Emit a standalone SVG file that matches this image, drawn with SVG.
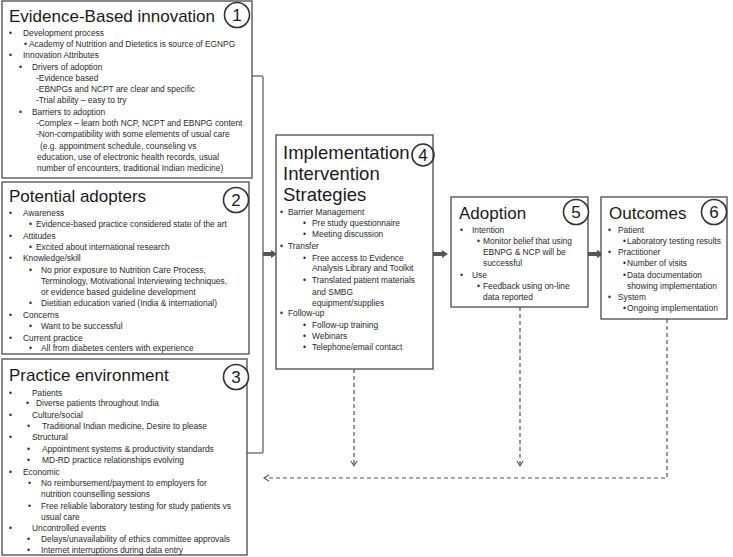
<svg xmlns="http://www.w3.org/2000/svg" width="733" height="557" viewBox="0 0 733 557">
<style>
.box{fill:#fff;stroke:#4a4a4a;stroke-width:1.3}
.t{font-family:"Liberation Sans",Arial,sans-serif;font-size:17px;fill:#1a1a1a}
.t4{font-size:18.5px}
.b{font-family:"Liberation Sans",Arial,sans-serif;font-size:8.4px;fill:#2a2a2a}
.c{fill:#fff;stroke:#333;stroke-width:1.6}
.cn{font-family:"Liberation Sans",Arial,sans-serif;font-size:17px;fill:#1a1a1a;text-anchor:middle}
.thick{stroke:#555;stroke-width:4;fill:none}
.head{fill:#555}
.dash{stroke:#555;stroke-width:1.2;fill:none;stroke-dasharray:4 3}
.chev{stroke:#555;stroke-width:1.1;fill:none}
.br{stroke:#333;stroke-width:1;fill:none}
</style>

<g id="connectors">
  <path class="br" d="M252,76 H262 Q263,76 263,77 V452 Q263,453 262,453 H247"/>
  <line class="thick" x1="263" y1="254" x2="272" y2="254"/>
  <polygon class="head" points="271,250 277,254 271,258"/>
  <line class="thick" x1="433" y1="254" x2="443" y2="254"/>
  <polygon class="head" points="442,250 448,254 442,258"/>
  <line class="thick" x1="588" y1="254" x2="598" y2="254"/>
  <polygon class="head" points="597,250 604,254 597,258"/>
  <line class="dash" x1="354" y1="369" x2="354" y2="465"/>
  <polyline class="chev" points="351,461 354,466 357,461"/>
  <line class="dash" x1="520" y1="307" x2="520" y2="465"/>
  <polyline class="chev" points="517,461 520,466 523,461"/>
  <path class="dash" d="M667,319 V478 H265"/>
  <polyline class="chev" points="269,475 264,478 269,481"/>
</g>

<g id="node1">
  <rect class="box" x="2" y="1" width="250" height="177"/>
  <text class="t" x="9" y="22">Evidence-Based innovation</text>
  <circle class="c" cx="237" cy="15" r="12.5"/>
  <text class="cn" x="237" y="21">1</text>
  <g class="b">
    <text x="9" y="36">•</text><text x="23" y="36">Development process</text>
    <text x="24" y="47">•</text><text x="29" y="47">Academy of Nutrition and Dietetics is source of EGNPG</text>
    <text x="9" y="58">•</text><text x="23" y="58">Innovation Attributes</text>
    <text x="19" y="70">•</text><text x="32" y="70">Drivers of adoption</text>
    <text x="36" y="81">-Evidence based</text>
    <text x="36" y="92">-EBNPGs and NCPT are clear and specific</text>
    <text x="36" y="103">-Trial ability – easy to try</text>
    <text x="19" y="115">•</text><text x="32" y="115">Barriers to adoption</text>
    <text x="36" y="126">-Complex – learn both NCP, NCPT and EBNPG content</text>
    <text x="36" y="137">-Non-compatibility with some elements of usual care</text>
    <text x="40" y="149">(e.g. appointment schedule, counseling  vs</text>
    <text x="37" y="160">education, use of electronic health records, usual</text>
    <text x="37" y="171">number of encounters, traditional Indian medicine)</text>
  </g>
</g>

<g id="node2">
  <rect class="box" x="2" y="182" width="247" height="172"/>
  <text class="t" x="9" y="202">Potential adopters</text>
  <circle class="c" cx="236" cy="200" r="12.5"/>
  <text class="cn" x="236" y="206">2</text>
  <g class="b">
    <text x="9" y="216">•</text><text x="23" y="216">Awareness</text>
    <text x="29" y="227">•</text><text x="36" y="227">Evidence-based practice considered state of the art</text>
    <text x="9" y="238.5">•</text><text x="23" y="238.5">Attitudes</text>
    <text x="29" y="249.5">•</text><text x="36" y="249.5">Excited about international research</text>
    <text x="9" y="261">•</text><text x="23" y="261">Knowledge/skill</text>
    <text x="29" y="273">•</text><text x="41" y="273">No prior exposure to Nutrition Care Process,</text>
    <text x="41" y="284">Terminology, Motivational Interviewing techniques,</text>
    <text x="41" y="295">or evidence based guideline development</text>
    <text x="29" y="306">•</text><text x="41" y="306">Dietitian education varied (India &amp; international)</text>
    <text x="9" y="318">•</text><text x="23" y="318">Concerns</text>
    <text x="29" y="329">•</text><text x="41" y="329">Want to be successful</text>
    <text x="9" y="340.5">•</text><text x="23" y="340.5">Current practice</text>
    <text x="29" y="351">•</text><text x="41" y="351">All from diabetes centers with experience</text>
  </g>
</g>

<g id="node3">
  <rect class="box" x="2" y="359" width="245" height="196"/>
  <text class="t" x="9" y="381">Practice environment</text>
  <circle class="c" cx="236" cy="377" r="12.5"/>
  <text class="cn" x="236" y="383">3</text>
  <g class="b">
    <text x="9" y="396">•</text><text x="32" y="396">Patients</text>
    <text x="26" y="406">•</text><text x="36" y="406">Diverse patients throughout India</text>
    <text x="9" y="418">•</text><text x="32" y="418">Culture/social</text>
    <text x="27" y="429">•</text><text x="42" y="429">Traditional Indian medicine, Desire to please</text>
    <text x="9" y="440">•</text><text x="32" y="440">Structural</text>
    <text x="27" y="452">•</text><text x="42" y="452">Appointment systems &amp; productivity standards</text>
    <text x="27" y="463">•</text><text x="42" y="463">MD-RD practice relationships evolving</text>
    <text x="9" y="474.5">•</text><text x="23" y="474.5">Economic</text>
    <text x="28" y="486">•</text><text x="41" y="486">No reimbursement/payment to employers for</text>
    <text x="41" y="497">nutrition counselling sessions</text>
    <text x="28" y="508.5">•</text><text x="41" y="508.5">Free reliable laboratory testing for study patients vs</text>
    <text x="41" y="519.5">usual care</text>
    <text x="9" y="531">•</text><text x="32" y="531">Uncontrolled events</text>
    <text x="27" y="542">•</text><text x="41" y="542">Delays/unavailability of ethics committee approvals</text>
    <text x="27" y="553">•</text><text x="41" y="553">Internet interruptions during data entry</text>
  </g>
</g>

<g id="node4">
  <rect class="box" x="276" y="135" width="157" height="234"/>
  <text class="t t4" x="283" y="159">Implementation</text>
  <text class="t t4" x="283" y="180">Intervention</text>
  <text class="t t4" x="283" y="201">Strategies</text>
  <circle class="c" cx="423" cy="155" r="11" style="fill:none"/>
  <text class="cn" x="423" y="161">4</text>
  <g class="b">
    <text x="280" y="214.5">•</text><text x="288" y="214.5">Barrier Management</text>
    <text x="303" y="226">•</text><text x="312" y="226">Pre study questionnaire</text>
    <text x="303" y="237">•</text><text x="312" y="237">Meeting discussion</text>
    <text x="280" y="249">•</text><text x="288" y="249">Transfer</text>
    <text x="303" y="260.5">•</text><text x="312" y="260.5">Free access to Evidence</text>
    <text x="312" y="271">Analysis Library and Toolkit</text>
    <text x="303" y="283">•</text><text x="312" y="283">Translated patient materials</text>
    <text x="312" y="294.5">and SMBG</text>
    <text x="312" y="305.5">equipment/supplies</text>
    <text x="280" y="316">•</text><text x="288" y="316">Follow-up</text>
    <text x="303" y="328">•</text><text x="312" y="328">Follow-up training</text>
    <text x="303" y="339">•</text><text x="312" y="339">Webinars</text>
    <text x="303" y="350">•</text><text x="312" y="350">Telephone/email contact</text>
  </g>
</g>

<g id="node5">
  <rect class="box" x="451" y="197" width="137" height="110"/>
  <text class="t" x="459" y="219">Adoption</text>
  <circle class="c" cx="576" cy="212" r="12.5"/>
  <text class="cn" x="576" y="218">5</text>
  <g class="b">
    <text x="460" y="233">•</text><text x="472" y="233">Intention</text>
    <text x="477" y="244">•</text><text x="483" y="244">Monitor belief that using</text>
    <text x="483" y="255">EBNPG &amp; NCP  will be</text>
    <text x="483" y="266">successful</text>
    <text x="460" y="278">•</text><text x="472" y="278">Use</text>
    <text x="477" y="289">•</text><text x="483" y="289">Feedback using on-line</text>
    <text x="483" y="299.5">data reported</text>
  </g>
</g>

<g id="node6">
  <rect class="box" x="601" y="197" width="126" height="122"/>
  <text class="t" x="609" y="219">Outcomes</text>
  <circle class="c" cx="714" cy="212" r="12.5"/>
  <text class="cn" x="714" y="218">6</text>
  <g class="b">
    <text x="608" y="233">•</text><text x="618" y="233">Patient</text>
    <text x="623" y="244">•</text><text x="627" y="244">Laboratory testing results</text>
    <text x="608" y="255">•</text><text x="618" y="255">Practitioner</text>
    <text x="623" y="266">•</text><text x="627" y="266">Number of visits</text>
    <text x="623" y="278">•</text><text x="627" y="278">Data documentation</text>
    <text x="627" y="289">showing implementation</text>
    <text x="608" y="299.5">•</text><text x="618" y="299.5">System</text>
    <text x="623" y="311">•</text><text x="627" y="311">Ongoing implementation</text>
  </g>
</g>
</svg>
